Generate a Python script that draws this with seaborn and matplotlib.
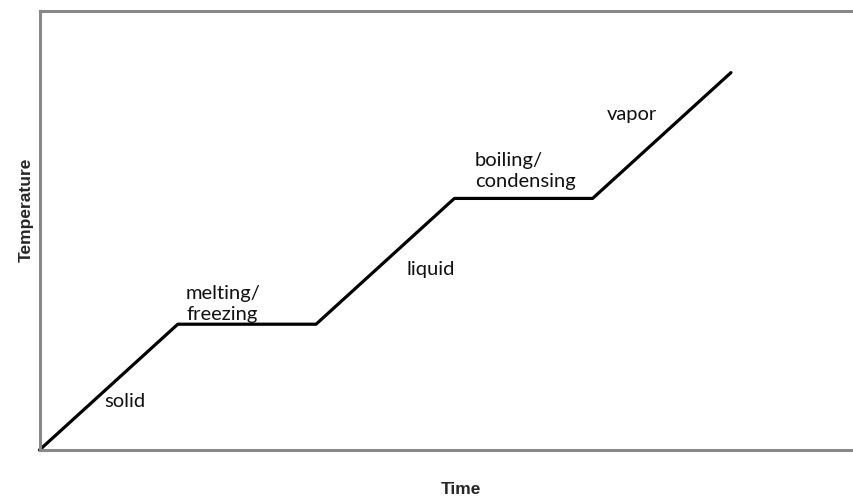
import matplotlib
matplotlib.use("Agg")
import matplotlib.pyplot as plt
import seaborn as sns

# heating curve: time steps vs temperature levels
time = [0, 1, 2, 3, 4, 5]
temperature = [0, 1, 1, 2, 2, 3]

phase_labels = ["solid", "melting/\nfreezing", "liquid", "boiling/\ncondensing", "vapor"]
label_x = [0.47, 1.06, 2.655, 3.15, 4.10]
label_y = [0.34, 1.034, 1.392, 2.092, 2.625]

sns.set_theme(style="white")
plt.rcParams["font.family"] = ["Lato", "DejaVu Sans"]

fig = plt.figure(figsize=(8.54, 4.97), dpi=100)
ax = fig.add_axes([39.5 / 854, 47 / 497, 1 - 39.5 / 854, (450 - 11) / 497])

sns.lineplot(x=time, y=temperature, color="black", linewidth=2.3, ax=ax,
             clip_on=False)

for txt, x, y in zip(phase_labels, label_x, label_y):
    ax.text(x, y, txt, fontsize=14.5, color="#111111", ha="left", va="baseline",
            linespacing=1.25)

ax.set_xlim(0, 5.89)
ax.set_ylim(0, 3.49)
ax.set_xticks([])
ax.set_yticks([])
ax.set_xlabel("")
ax.set_ylabel("")
for side in ["left", "bottom", "top"]:
    ax.spines[side].set_color("#888888")
    ax.spines[side].set_linewidth(2.2)
ax.spines["right"].set_visible(False)

fig.text(461 / 854, 1 - 489 / 497, "Time", fontsize=12.5, fontweight="bold",
         fontname="Liberation Sans", ha="center", va="center")
fig.text(26 / 854, 1 - 210 / 497, "Temperature", fontsize=12.5, fontweight="bold",
         fontname="Liberation Sans", rotation=90, ha="center", va="center")

fig.savefig("out.png", dpi=100)
